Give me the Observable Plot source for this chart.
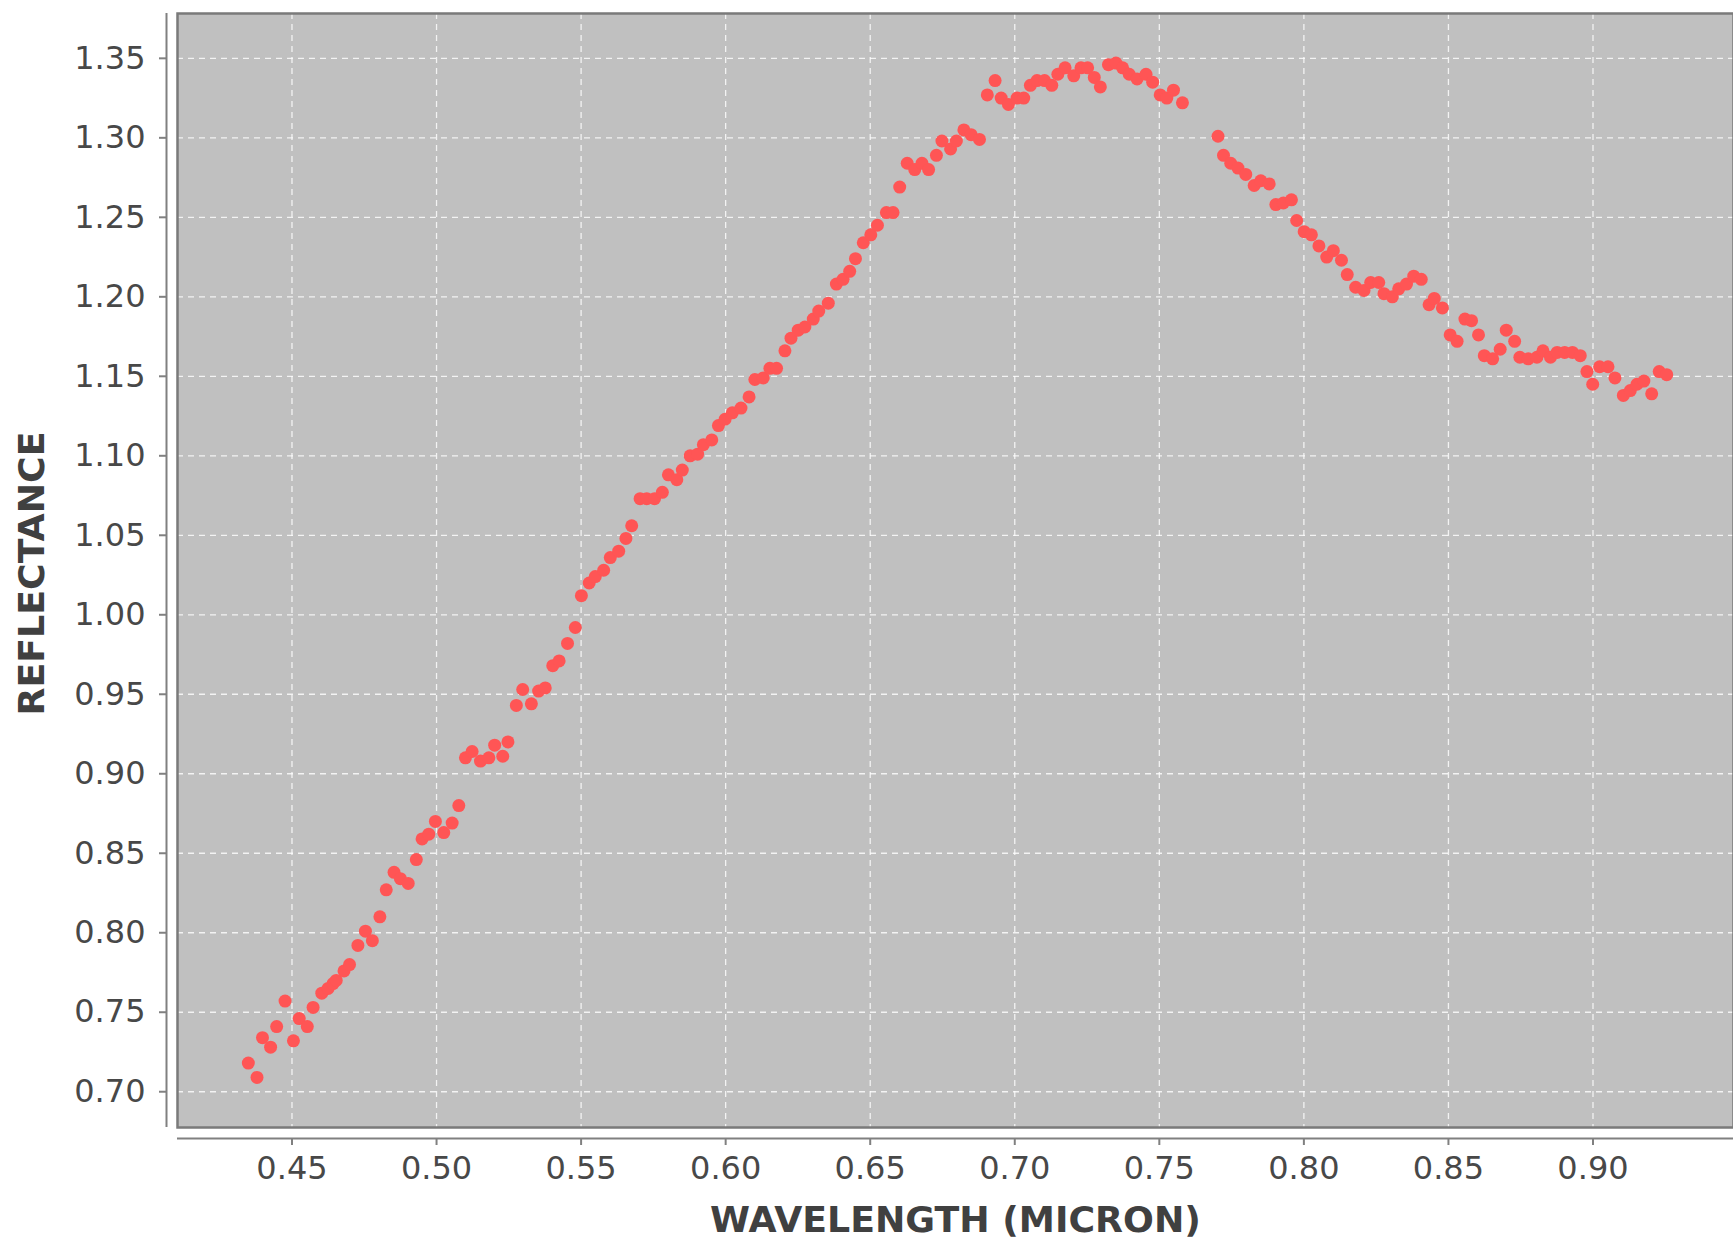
<!DOCTYPE html>
<html>
<head>
<meta charset="utf-8">
<script src="https://cdn.jsdelivr.net/npm/d3@7"></script>
<script src="https://cdn.jsdelivr.net/npm/@observablehq/plot@0.6"></script>
<style>
  html, body { margin: 0; padding: 0; background: #ffffff; }
  #chart svg { display: block; }
</style>
</head>
<body>
<div id="chart"></div>
<script>
// ---- Data ----
const wavelength = [
  0.4349, 0.4379, 0.4398, 0.4426, 0.4447, 0.4476, 0.4505, 0.4525, 0.4553, 0.4573,
  0.4603, 0.4625, 0.4642, 0.4653, 0.4680, 0.4699, 0.4728, 0.4754, 0.4778, 0.4804,
  0.4826, 0.4853, 0.4875, 0.4902, 0.4930, 0.4950, 0.4973, 0.4996, 0.5025, 0.5054,
  0.5077, 0.5100, 0.5123, 0.5152, 0.5181, 0.5201, 0.5229, 0.5247, 0.5276, 0.5298,
  0.5328, 0.5353, 0.5376, 0.5402, 0.5424, 0.5453, 0.5480, 0.5501, 0.5528, 0.5549,
  0.5578, 0.5601, 0.5630, 0.5655, 0.5675, 0.5704, 0.5727, 0.5754, 0.5781, 0.5802,
  0.5831, 0.5850, 0.5877, 0.5903, 0.5923, 0.5952, 0.5975, 0.5998, 0.6023, 0.6053,
  0.6081, 0.6101, 0.6130, 0.6153, 0.6176, 0.6205, 0.6226, 0.6251, 0.6274, 0.6303,
  0.6322, 0.6355, 0.6383, 0.6406, 0.6429, 0.6449, 0.6476, 0.6502, 0.6525, 0.6556,
  0.6579, 0.6602, 0.6628, 0.6654, 0.6679, 0.6702, 0.6729, 0.6748, 0.6778, 0.6798,
  0.6824, 0.6849, 0.6878, 0.6905, 0.6932, 0.6953, 0.6978, 0.7008, 0.7031, 0.7054,
  0.7077, 0.7103, 0.7128, 0.7149, 0.7174, 0.7204, 0.7229, 0.7252, 0.7275, 0.7296,
  0.7324, 0.7350, 0.7373, 0.7396, 0.7423, 0.7454, 0.7477, 0.7503, 0.7526, 0.7549,
  0.7580, 0.7703, 0.7722, 0.7747, 0.7772, 0.7799, 0.7828, 0.7851, 0.7880, 0.7903,
  0.7929, 0.7957, 0.7975, 0.8001, 0.8026, 0.8052, 0.8079, 0.8102, 0.8130, 0.8150,
  0.8179, 0.8208, 0.8231, 0.8259, 0.8277, 0.8306, 0.8328, 0.8355, 0.8380, 0.8406,
  0.8433, 0.8451, 0.8479, 0.8506, 0.8530, 0.8557, 0.8580, 0.8604, 0.8624, 0.8653,
  0.8679, 0.8700, 0.8729, 0.8747, 0.8776, 0.8806, 0.8827, 0.8853, 0.8876, 0.8902,
  0.8929, 0.8956, 0.8979, 0.8999, 0.9023, 0.9052, 0.9076, 0.9105, 0.9129, 0.9152,
  0.9176, 0.9203, 0.9229, 0.9255
];
const reflectance = [
  0.718, 0.709, 0.734, 0.728, 0.741, 0.757, 0.732, 0.746, 0.741, 0.753,
  0.762, 0.765, 0.768, 0.770, 0.776, 0.780, 0.792, 0.801, 0.795, 0.810,
  0.827, 0.838, 0.834, 0.831, 0.846, 0.859, 0.862, 0.870, 0.863, 0.869,
  0.880, 0.910, 0.914, 0.908, 0.910, 0.918, 0.911, 0.920, 0.943, 0.953,
  0.944, 0.952, 0.954, 0.968, 0.971, 0.982, 0.992, 1.012, 1.020, 1.024,
  1.028, 1.036, 1.040, 1.048, 1.056, 1.073, 1.073, 1.073, 1.077, 1.088,
  1.085, 1.091, 1.100, 1.101, 1.107, 1.110, 1.119, 1.123, 1.127, 1.130,
  1.137, 1.148, 1.149, 1.155, 1.155, 1.166, 1.174, 1.179, 1.181, 1.186,
  1.191, 1.196, 1.208, 1.211, 1.216, 1.224, 1.234, 1.239, 1.245, 1.253,
  1.253, 1.269, 1.284, 1.280, 1.284, 1.280, 1.289, 1.298, 1.293, 1.298,
  1.305, 1.302, 1.299, 1.327, 1.336, 1.325, 1.321, 1.325, 1.325, 1.333,
  1.336, 1.336, 1.333, 1.340, 1.344, 1.339, 1.344, 1.344, 1.338, 1.332,
  1.346, 1.347, 1.344, 1.340, 1.337, 1.340, 1.335, 1.327, 1.325, 1.330,
  1.322, 1.301, 1.289, 1.284, 1.281, 1.277, 1.270, 1.273, 1.271, 1.258,
  1.259, 1.261, 1.248, 1.241, 1.239, 1.232, 1.225, 1.229, 1.223, 1.214,
  1.206, 1.204, 1.209, 1.209, 1.202, 1.200, 1.205, 1.208, 1.213, 1.211,
  1.195, 1.199, 1.193, 1.176, 1.172, 1.186, 1.185, 1.176, 1.163, 1.161,
  1.167, 1.179, 1.172, 1.162, 1.161, 1.162, 1.166, 1.162, 1.165, 1.165,
  1.165, 1.163, 1.153, 1.145, 1.156, 1.156, 1.149, 1.138, 1.141, 1.145,
  1.147, 1.139, 1.153, 1.151
];
const xTicks = [0.45, 0.50, 0.55, 0.60, 0.65, 0.70, 0.75, 0.80, 0.85, 0.90];
const yTicks = [0.70, 0.75, 0.80, 0.85, 0.90, 0.95, 1.00, 1.05, 1.10, 1.15, 1.20, 1.25, 1.30, 1.35];
const xDomain = [0.4104, 0.9486];
const yDomain = [0.6775, 1.3782];
const xLabel = "WAVELENGTH (MICRON)";
const yLabel = "REFLECTANCE";

const data = wavelength.map((w, i) => ({w, r: reflectance[i]}));
const fmt = d3.format(".2f");

const axisColor = "#808080";
const textColor = "#404040";
const gridStyle = {stroke: "#ffffff", strokeOpacity: 0.8, strokeWidth: 1.3, strokeDasharray: "6,5"};

const chart = Plot.plot({
  width: 1733,
  height: 1241,
  marginLeft: 177,
  marginRight: 0,
  marginTop: 13,
  marginBottom: 114,
  style: {fontFamily: "DejaVu Sans", fontSize: "32px", color: textColor, background: "#ffffff", overflow: "visible"},
  x: {domain: xDomain},
  y: {domain: yDomain},
  marks: [
    Plot.frame({fill: "#c0c0c0"}),
    Plot.gridX(xTicks, gridStyle),
    Plot.gridY(yTicks, gridStyle),
    Plot.dot(data, {x: "w", y: "r", r: 6.5, fill: "#ff5555"}),
    Plot.frame({stroke: "#7a7a7a", strokeWidth: 2.5}),
    Plot.ruleY([yDomain[0]], {dy: 11, stroke: axisColor, strokeWidth: 2}),
    Plot.ruleX([xDomain[0]], {dx: -11, stroke: axisColor, strokeWidth: 2}),
    Plot.axisX(xTicks, {tickFormat: fmt, tickSize: 7, tickPadding: 11, dy: 11, stroke: axisColor, strokeWidth: 2, fill: "#484848", label: null, fontSize: 32}),
    Plot.axisY(yTicks, {tickFormat: fmt, tickSize: 7, tickPadding: 14, dx: -11, stroke: axisColor, strokeWidth: 2, fill: "#484848", label: null, fontSize: 32}),
    Plot.text([xLabel], {text: d => d, frameAnchor: "bottom", textAnchor: "middle", dy: 93, dx: 0, lineAnchor: "middle", fontSize: 36.3, fontWeight: "bold", fill: textColor}),
    Plot.text([yLabel], {text: d => d, frameAnchor: "left", textAnchor: "middle", dx: -145, dy: 3, rotate: -90, lineAnchor: "middle", fontSize: 36.3, fontWeight: "bold", fill: textColor, letterSpacing: "1.2px"})
  ]
});

document.getElementById("chart").appendChild(chart);
</script>
</body>
</html>
